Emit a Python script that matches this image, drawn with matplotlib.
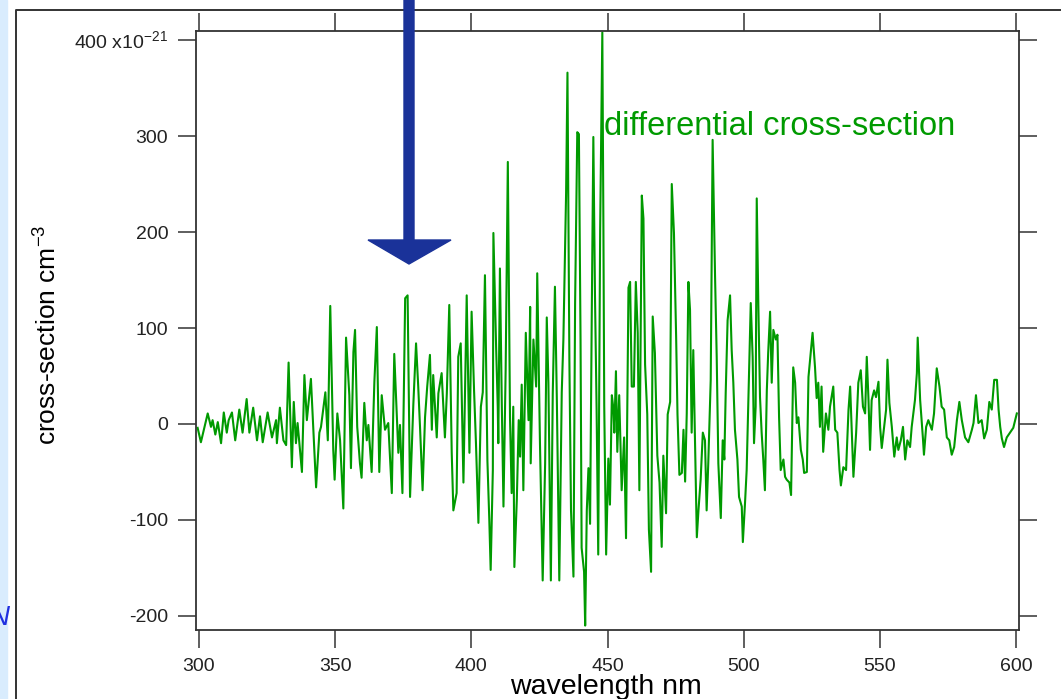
import matplotlib
matplotlib.use("Agg")
import matplotlib.pyplot as plt
from matplotlib.patches import Polygon, Rectangle
from matplotlib.lines import Line2D

plt.rcParams['font.family'] = ['Liberation Sans', 'DejaVu Sans']
plt.rcParams['mathtext.fontset'] = 'custom'
plt.rcParams['mathtext.rm'] = 'Liberation Sans'

# wavelength (nm) and differential cross-section (1e-21 cm^3)
wavelength = [
    299.5, 300.7, 303.2, 304.4, 305.0, 306.0, 306.9, 308.1, 309.1, 310.2,
    310.9, 312.1, 313.3, 314.8, 316.0, 317.5, 318.5, 319.9, 321.3, 322.4,
    323.4, 325.2, 326.8, 328.3, 328.6, 329.7, 331.0, 332.0, 332.9, 334.1,
    334.8, 335.6, 336.2, 337.8, 338.7, 339.6, 341.1, 343.0, 344.2, 344.8,
    346.4, 347.3, 348.2, 349.3, 349.8, 350.8, 351.8, 353.0, 354.0, 355.2,
    355.8, 356.7, 357.3, 358.1, 359.1, 359.7, 360.7, 361.6, 362.2, 363.4,
    364.4, 365.3, 366.2, 367.1, 368.3, 369.5, 370.8, 371.7, 373.2, 373.8,
    374.7, 375.7, 376.6, 377.5, 378.7, 379.7, 380.5, 381.2, 382.1, 383.0,
    383.8, 384.8, 385.5, 386.0, 387.3, 387.9, 389.1, 390.3, 391.0, 391.9,
    392.8, 393.4, 394.6, 395.2, 396.1, 397.1, 398.3, 399.3, 400.1, 401.0,
    401.7, 402.6, 403.5, 404.2, 405.0, 405.9, 406.6, 407.1, 407.9, 408.1,
    409.1, 409.7, 409.9, 410.5, 411.2, 411.8, 412.6, 413.4, 414.2, 414.8,
    415.4, 415.8, 416.7, 417.4, 417.9, 418.5, 419.1, 420.0, 421.0, 421.6,
    421.8, 422.8, 423.8, 424.2, 425.2, 426.2, 427.1, 427.7, 428.3, 429.2,
    429.9, 430.7, 431.4, 432.3, 433.2, 433.8, 434.8, 435.3, 436.0, 436.6,
    437.5, 438.1, 438.9, 439.5, 440.1, 440.5, 441.4, 441.8, 442.4, 443.0,
    443.6, 444.2, 444.8, 445.4, 446.0, 446.6, 447.3, 448.1, 448.5, 448.8,
    449.5, 450.3, 450.9, 451.6, 452.2, 452.5, 453.1, 453.6, 454.3, 455.2,
    456.1, 456.8, 457.7, 458.3, 458.9, 459.7, 460.4, 461.1, 461.7, 462.6,
    463.2, 463.8, 464.6, 465.2, 466.0, 466.6, 467.4, 468.3, 469.1, 469.9,
    470.5, 471.5, 472.1, 473.0, 473.6, 474.4, 475.2, 475.7, 476.4, 477.3,
    477.9, 478.5, 479.1, 479.7, 480.3, 480.9, 481.5, 482.1, 482.8, 483.4,
    484.2, 485.0, 485.8, 486.4, 487.0, 487.9, 488.6, 489.5, 490.1, 490.7,
    491.6, 492.3, 492.9, 493.4, 494.1, 495.0, 495.6, 496.2, 496.8, 497.7,
    498.3, 499.3, 499.7, 500.5, 501.1, 501.7, 502.6, 503.3, 503.8, 504.4,
    504.8, 505.4, 506.0, 506.6, 507.2, 507.8, 508.5, 509.0, 509.7, 510.3,
    510.9, 511.8, 512.4, 513.0, 513.6, 514.6, 515.2, 515.8, 516.8, 517.4,
    518.2, 518.9, 519.5, 520.1, 521.0, 521.7, 522.2, 523.2, 523.8, 525.3,
    526.2, 526.8, 527.4, 528.0, 528.6, 529.2, 530.2, 531.1, 531.7, 532.9,
    533.6, 534.4, 535.2, 535.7, 536.6, 537.6, 538.5, 539.1, 539.7, 540.3,
    541.3, 542.1, 543.0, 543.8, 544.6, 545.2, 545.8, 546.4, 547.0, 547.9,
    548.6, 549.5, 550.1, 550.7, 551.6, 552.3, 552.8, 553.5, 554.4, 555.3,
    556.2, 556.8, 557.7, 558.5, 559.3, 560.1, 561.1, 561.7, 562.9, 563.6,
    563.9, 564.8, 565.8, 566.2, 567.0, 567.8, 569.1, 569.9, 570.9, 571.9,
    572.7, 573.6, 574.6, 575.5, 576.4, 577.3, 578.3, 579.2, 580.1, 581.3,
    582.5, 583.8, 584.4, 585.3, 586.2, 587.4, 588.3, 589.3, 590.2, 591.1,
    592.0, 593.0, 593.6, 594.2, 594.8, 595.6, 596.6, 597.8, 599.0, 600.3,
]
cross_section = [
    -4, -19, 11, -3, 4, -11, 2, -20, 12, -9,
    4, 12, -17, 15, -9, 26, -9, 17, -17, 8,
    -19, 12, -14, 4, -20, 17, -17, -22, 64, -45,
    23, -20, 1, -50, 51, 4, 47, -66, -9, -3,
    33, -17, 123, -27, -58, 11, -17, -88, 90, 30,
    -46, 75, 98, -3, -41, -56, 22, -17, -1, -50,
    44, 101, -50, 30, -6, 1, -72, 73, -30, -1,
    -72, 131, 134, -76, 20, 84, 39, -6, -69, 7,
    39, 72, -6, 51, -14, 32, 53, -14, 32, 124,
    -30, -90, -72, 70, 84, -61, 134, -30, 117, 35,
    -20, -103, 18, 33, 155, -38, -100, -152, -48, 199,
    80, 18, -20, 162, 18, -86, 56, 273, 7, -72,
    18, -149, -79, 4, -34, 41, -69, 95, 4, 122,
    -41, 88, 39, 157, -20, -163, -41, 111, 43, -163,
    32, 143, 25, -163, 33, 88, 241, 366, 67, -90,
    -159, 125, 304, 302, 88, -129, -154, -210, -90, -46,
    -104, 107, 299, 135, 15, -136, 202, 408, 203, 19,
    -136, -36, -84, 30, 15, -9, 55, -29, 30, -69,
    -14, -119, 142, 148, 39, 39, 148, 95, -69, 238,
    214, 62, 10, -110, -154, 112, 74, -33, -61, -128,
    -33, -93, 10, 23, 250, 199, 91, 10, -53, -51,
    -6, -60, 11, 148, 119, -9, 77, -14, -118, -90,
    -58, -9, -17, -90, -41, 46, 296, 153, 70, -41,
    -98, -17, -37, 32, 108, 134, 77, 43, -6, -37,
    -76, -86, -123, -82, -48, 22, 126, 70, -20, 18,
    235, 122, 28, -9, -37, -69, 35, 74, 117, 43,
    98, 88, 93, 7, -48, -37, -55, -58, -61, -74,
    59, 43, 1, 7, -27, -37, -51, -50, 49, 95,
    59, 27, 43, -3, 39, -29, 11, -6, 18, 39,
    -6, -9, -48, -64, -45, -48, 15, 39, -9, -55,
    -9, 43, 56, 18, 11, 70, 28, -27, 25, 35,
    28, 44, -3, -25, -3, 15, 67, 22, -3, -34,
    -14, -27, -17, -3, -37, -17, -24, -3, 25, 53,
    90, 25, -14, -32, -3, 4, -6, 11, 58, 39,
    18, 15, -14, -17, -32, -24, 4, 23, 4, -14,
    -19, -6, 1, 30, 1, 4, -15, -6, 23, 15,
    46, 46, 15, -3, -15, -24, -14, -9, -4, 11,
]
x_ticks = [300, 350, 400, 450, 500, 550, 600]
y_ticks = [-200, -100, 0, 100, 200, 300, 400]
y_ticklabels = ['-200', '-100', '0', '100', '200', '300', '400 x10$^{\\mathregular{-21}}$']

W, H = 1061, 699
fig = plt.figure(figsize=(W / 100, H / 100), dpi=100)

# slide background bits
fig.patches.append(Rectangle((0, 0), 7 / W, 1, transform=fig.transFigure,
                             color='#d9ecfd', zorder=0))
fig.lines.append(Line2D([16 / W, 16 / W, 1.0], [0, 1 - 10 / H, 1 - 10 / H],
                        transform=fig.transFigure, color='#333333', lw=1.4))

ax = fig.add_axes([196 / W, 1 - 630 / H, 823 / W, 599 / H])
ax.plot(wavelength, cross_section, color='#009a00', lw=1.5)

ax.set_xlim(298.9, 601.1)
ax.set_ylim(-214.6, 409.4)
ax.set_xticks(x_ticks)
ax.set_yticks(y_ticks)
ax.set_yticklabels(y_ticklabels)
ax.tick_params(direction='out', length=13, width=1.1, labelsize=14, pad=7,
               color='#333333', labelcolor='#222222',
               top=True, right=True, labeltop=False, labelright=False)
for s in ax.spines.values():
    s.set_linewidth(1.3)
    s.set_color('#333333')

ax.set_xlabel('wavelength nm', fontsize=20.5)
ax.xaxis.label.set_va('baseline')
ax.xaxis.set_label_coords(0.498, -0.1065)
ax.set_ylabel('cross-section cm$^{\\mathregular{-3}}$', fontsize=19)
ax.yaxis.label.set_va('center')
ax.yaxis.set_label_coords(-0.181, 0.4925)

ax.text(448.8, 310, 'differential cross-section', color='#009a00', fontsize=23.5,
        va='center', ha='left')

# big blue arrow pointing at the 377 nm feature
pts = [(404, -5), (414, -5), (414, 240), (451, 240), (409, 264), (368, 240), (404, 240)]
fig.patches.append(Polygon([(x / W, 1 - y / H) for x, y in pts], closed=True,
                           transform=fig.transFigure, color='#1a3299', zorder=5))

# fragment of slide text cut by the left edge
fig.text(9 / W, 1 - 618 / H, 'N', color='#2030e0', fontsize=20, style='italic',
         ha='right', va='center')

fig.savefig('out.png', dpi=100)
